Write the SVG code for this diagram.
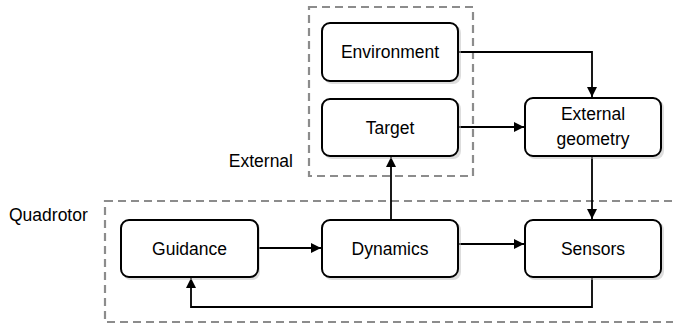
<svg xmlns="http://www.w3.org/2000/svg" width="673" height="327" viewBox="0 0 673 327">
<defs>
<style>
.box{fill:#fff;stroke:#000;stroke-width:2}
.shadow{fill:#bbb;opacity:0.5}
.grp{fill:none;stroke:#8c8c8c;stroke-width:2.2;stroke-dasharray:8,5}
.lbl{font-family:"Liberation Sans",Arial,sans-serif;font-size:17.5px;fill:#000}
.c{text-anchor:middle}
.wire{fill:none;stroke:#000;stroke-width:1.8}
</style>
<marker id="ah" viewBox="0 0 10 10" refX="10" refY="5" markerWidth="10" markerHeight="10" markerUnits="userSpaceOnUse" orient="auto">
<path d="M0,0 L10,5 L0,10 z" fill="#000"/>
</marker>
</defs>
<rect width="673" height="327" fill="#fff"/>
<g id="group-external">
<rect class="grp" x="309" y="7" width="164" height="169"/>
<text class="lbl" x="293" y="167" text-anchor="end">External</text>
</g>
<g id="group-quadrotor">
<rect class="grp" x="105" y="201" width="575" height="121"/>
<text class="lbl" x="9" y="221">Quadrotor</text>
</g>
<g id="connectors">
<path class="wire" d="M458,52 H592 V97" marker-end="url(#ah)"/>
<path class="wire" d="M458,127 H524" marker-end="url(#ah)"/>
<path class="wire" d="M592,156 V219" marker-end="url(#ah)"/>
<path class="wire" d="M391,220 V157" marker-end="url(#ah)"/>
<path class="wire" d="M258,248 H321" marker-end="url(#ah)"/>
<path class="wire" d="M458,244 H524" marker-end="url(#ah)"/>
<path class="wire" d="M592,277 V307 H191 V278" marker-end="url(#ah)"/>
</g>
<g id="environment">
<rect class="shadow" x="324" y="25" width="137" height="59" rx="8"/>
<rect class="box" x="322" y="23" width="136" height="58" rx="8"/>
<text class="lbl c" x="390" y="58">Environment</text>
</g>
<g id="target">
<rect class="shadow" x="324" y="101" width="137" height="58" rx="8"/>
<rect class="box" x="322" y="99" width="136" height="57" rx="8"/>
<text class="lbl c" x="390" y="134">Target</text>
</g>
<g id="external-geometry">
<rect class="shadow" x="527" y="100" width="137" height="59" rx="8"/>
<rect class="box" x="525" y="98" width="136" height="58" rx="8"/>
<text class="lbl c" x="593" y="120">External</text>
<text class="lbl c" x="593" y="145">geometry</text>
</g>
<g id="guidance">
<rect class="shadow" x="123" y="222" width="137" height="58" rx="8"/>
<rect class="box" x="121" y="220" width="137" height="57" rx="8"/>
<text class="lbl c" x="189.5" y="255">Guidance</text>
</g>
<g id="dynamics">
<rect class="shadow" x="324" y="222" width="137" height="58" rx="8"/>
<rect class="box" x="322" y="220" width="136" height="57" rx="8"/>
<text class="lbl c" x="390" y="255">Dynamics</text>
</g>
<g id="sensors">
<rect class="shadow" x="527" y="222" width="137" height="58" rx="8"/>
<rect class="box" x="525" y="220" width="136" height="57" rx="8"/>
<text class="lbl c" x="593" y="255">Sensors</text>
</g>
</svg>
